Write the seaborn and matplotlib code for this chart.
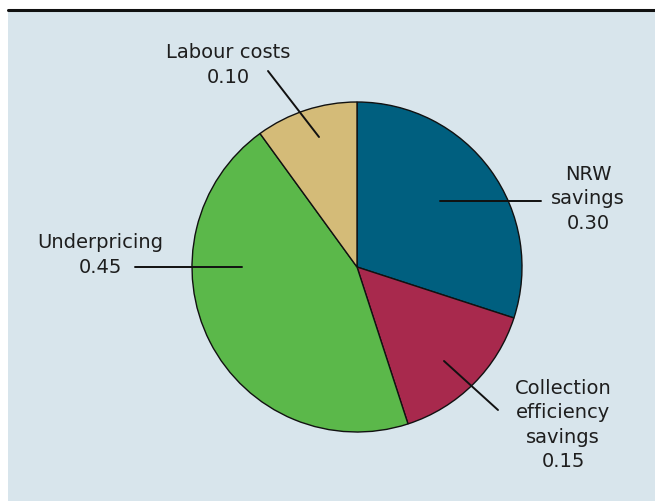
import matplotlib
matplotlib.use("Agg")
import matplotlib.pyplot as plt
import seaborn as sns
from matplotlib.patches import Rectangle
from matplotlib.lines import Line2D

# Shares of the revenue gap
categories = ["NRW\nsavings", "Collection\nefficiency\nsavings", "Underpricing", "Labour costs"]
shares = [0.30, 0.15, 0.45, 0.10]
colors = ["#005f7f", "#a8294d", "#5bb84a", "#d4bb78"]

sns.set_theme(style="white")
plt.rcParams["font.family"] = ["DejaVu Sans"]

W, H = 655, 502
fig = plt.figure(figsize=(W / 100, H / 100), dpi=100)
fig.patch.set_facecolor("white")

# light panel and black rule across the top
fig.patches.append(Rectangle((8 / W, 0), 1 - 8 / W, (H - 11) / H,
                             transform=fig.transFigure, facecolor="#d8e5ec",
                             edgecolor="none", zorder=-2))
fig.lines.append(Line2D([8 / W, 1], [(H - 11) / H] * 2, transform=fig.transFigure,
                        color="#111111", linewidth=2.2, zorder=-1))

cx, cy, r = 357, 268, 165
ax = fig.add_axes([(cx - r) / W, (H - cy - r) / H, 2 * r / W, 2 * r / H])
ax.set_zorder(2)
ax.set_facecolor("none")
ax.pie(shares, colors=sns.color_palette(colors), startangle=90, counterclock=False,
       radius=1.0, wedgeprops=dict(edgecolor="#111111", linewidth=1.0))
ax.set_xlim(-1, 1)
ax.set_ylim(-1, 1)
ax.set_aspect("equal")
ax.axis("off")


def pt(px, py):
    """Pixel position in the figure -> axes data units."""
    return ((px - cx) / r, (cy - py) / r)


# (label, value, line start, line end, text centre)
labels = [
    (categories[0], shares[0], (440, 202), (541, 202), (588, 199)),
    (categories[1], shares[1], (444, 362), (498, 411), (563, 425)),
    (categories[2], shares[2], (242, 268), (135, 268), (100, 255)),
    (categories[3], shares[3], (319, 138), (268, 72), (228, 65)),
]
for name, val, p0, p1, tc in labels:
    a, b = pt(*p0), pt(*p1)
    ax.plot([a[0], b[0]], [a[1], b[1]], color="#111111", linewidth=1.4,
            clip_on=False, zorder=5)
    tx, ty = pt(*tc)
    ax.text(tx, ty, f"{name}\n{val:.2f}", ha="center", va="center",
            fontsize=14, color="#1e1e1e", linespacing=1.35, clip_on=False)

fig.savefig("out.png", dpi=100, facecolor=fig.get_facecolor())
